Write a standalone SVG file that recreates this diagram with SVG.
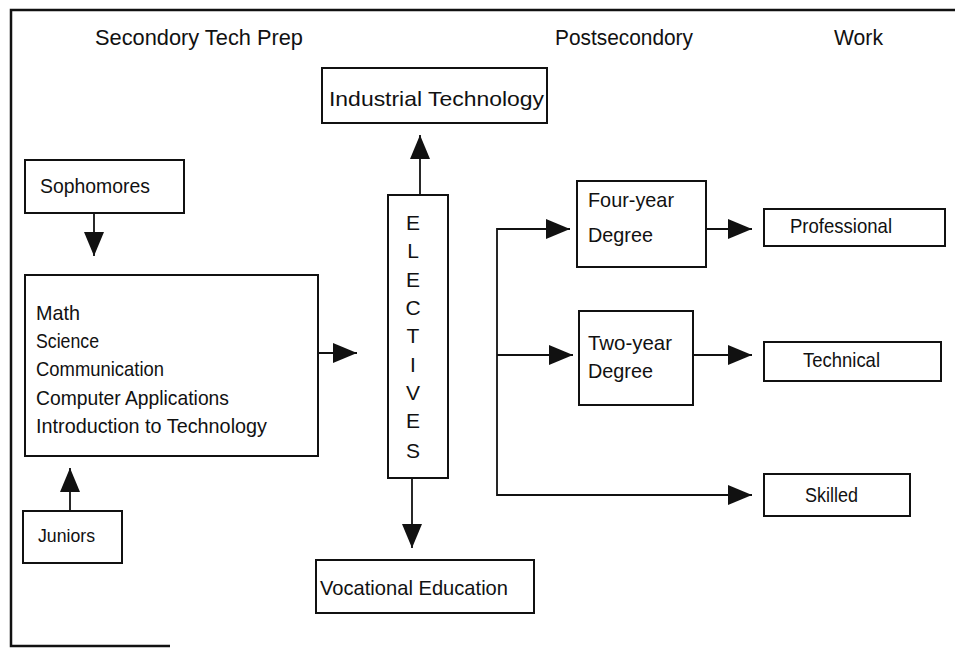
<svg xmlns="http://www.w3.org/2000/svg" width="955" height="648" viewBox="0 0 955 648">
<style>
text { font-family: "Liberation Sans", Arial, sans-serif; font-size: 21px; fill: #111; }
.hdr { font-size: 22px; }
.sm { font-size: 19px; }
.box { fill: #fff; stroke: #111; stroke-width: 2; }
.frame { fill: none; stroke: #111; stroke-width: 2.5; }
.conn { fill: none; stroke: #111; stroke-width: 1.8; }
.let { text-anchor: middle; }
</style>
<defs>
<marker id="ah" viewBox="0 0 24 20" refX="24" refY="10" markerWidth="24" markerHeight="20" markerUnits="userSpaceOnUse" orient="auto">
<path d="M0,0 L24,10 L0,20 z" fill="#111"/>
</marker>
</defs>
<rect width="955" height="648" fill="#fff"/>
<g id="frame">
<path class="frame" d="M955,10 H11 V646 H170"/>
</g>
<g id="headers">
<text class="hdr" x="95" y="45" textLength="208" lengthAdjust="spacingAndGlyphs">Secondory Tech Prep</text>
<text class="hdr" x="555" y="45" textLength="138" lengthAdjust="spacingAndGlyphs">Postsecondory</text>
<text class="hdr" x="834" y="45" textLength="49" lengthAdjust="spacingAndGlyphs">Work</text>
</g>
<g id="connectors">
<line class="conn" x1="94" y1="213" x2="94" y2="256" marker-end="url(#ah)"/>
<line class="conn" x1="70" y1="511" x2="70" y2="468" marker-end="url(#ah)"/>
<line class="conn" x1="318" y1="353" x2="357" y2="353" marker-end="url(#ah)"/>
<line class="conn" x1="420" y1="195" x2="420" y2="135" marker-end="url(#ah)"/>
<line class="conn" x1="412" y1="478" x2="412" y2="548" marker-end="url(#ah)"/>
<path class="conn" d="M570,229 H497 V495 H752" marker-end="url(#ah)"/>
<line class="conn" x1="497" y1="229" x2="570" y2="229" marker-end="url(#ah)"/>
<line class="conn" x1="497" y1="355" x2="573" y2="355" marker-end="url(#ah)"/>
<line class="conn" x1="706" y1="229" x2="752" y2="229" marker-end="url(#ah)"/>
<line class="conn" x1="693" y1="355" x2="752" y2="355" marker-end="url(#ah)"/>
</g>
<g id="industrial">
<rect class="box" x="322" y="68" width="225" height="55"/>
<text x="329" y="106" textLength="215" lengthAdjust="spacingAndGlyphs">Industrial Technology</text>
</g>
<g id="sophomores">
<rect class="box" x="25" y="160" width="159" height="53"/>
<text x="40" y="193" textLength="110" lengthAdjust="spacingAndGlyphs">Sophomores</text>
</g>
<g id="core">
<rect class="box" x="25" y="275" width="293" height="181"/>
<text x="36" y="320" textLength="44" lengthAdjust="spacingAndGlyphs">Math</text>
<text x="36" y="348" textLength="63" lengthAdjust="spacingAndGlyphs">Science</text>
<text x="36" y="376" textLength="128" lengthAdjust="spacingAndGlyphs">Communication</text>
<text x="36" y="405" textLength="193" lengthAdjust="spacingAndGlyphs">Computer Applications</text>
<text x="36" y="433" textLength="231" lengthAdjust="spacingAndGlyphs">Introduction to Technology</text>
</g>
<g id="juniors">
<rect class="box" x="23" y="511" width="99" height="52"/>
<text class="sm" x="38" y="542" textLength="57" lengthAdjust="spacingAndGlyphs">Juniors</text>
</g>
<g id="electives">
<rect class="box" x="388" y="195" width="60" height="283"/>
<text class="let" x="413" y="230">E</text>
<text class="let" x="413" y="258">L</text>
<text class="let" x="413" y="287">E</text>
<text class="let" x="413" y="315">C</text>
<text class="let" x="413" y="343">T</text>
<text class="let" x="413" y="372">I</text>
<text class="let" x="413" y="400">V</text>
<text class="let" x="413" y="428">E</text>
<text class="let" x="413" y="458">S</text>
</g>
<g id="vocational">
<rect class="box" x="316" y="560" width="218" height="53"/>
<text x="320" y="595" textLength="188" lengthAdjust="spacingAndGlyphs">Vocational Education</text>
</g>
<g id="fouryear">
<rect class="box" x="577" y="181" width="129" height="86"/>
<text x="588" y="207" textLength="86" lengthAdjust="spacingAndGlyphs">Four-year</text>
<text x="588" y="242" textLength="65" lengthAdjust="spacingAndGlyphs">Degree</text>
</g>
<g id="twoyear">
<rect class="box" x="579" y="311" width="114" height="94"/>
<text x="588" y="350" textLength="84" lengthAdjust="spacingAndGlyphs">Two-year</text>
<text x="588" y="378" textLength="65" lengthAdjust="spacingAndGlyphs">Degree</text>
</g>
<g id="professional">
<rect class="box" x="764" y="209" width="181" height="37"/>
<text x="790" y="233" textLength="102" lengthAdjust="spacingAndGlyphs">Professional</text>
</g>
<g id="technical">
<rect class="box" x="764" y="342" width="177" height="39"/>
<text x="803" y="367" textLength="77" lengthAdjust="spacingAndGlyphs">Technical</text>
</g>
<g id="skilled">
<rect class="box" x="764" y="474" width="146" height="42"/>
<text x="805" y="502" textLength="53" lengthAdjust="spacingAndGlyphs">Skilled</text>
</g>
</svg>
